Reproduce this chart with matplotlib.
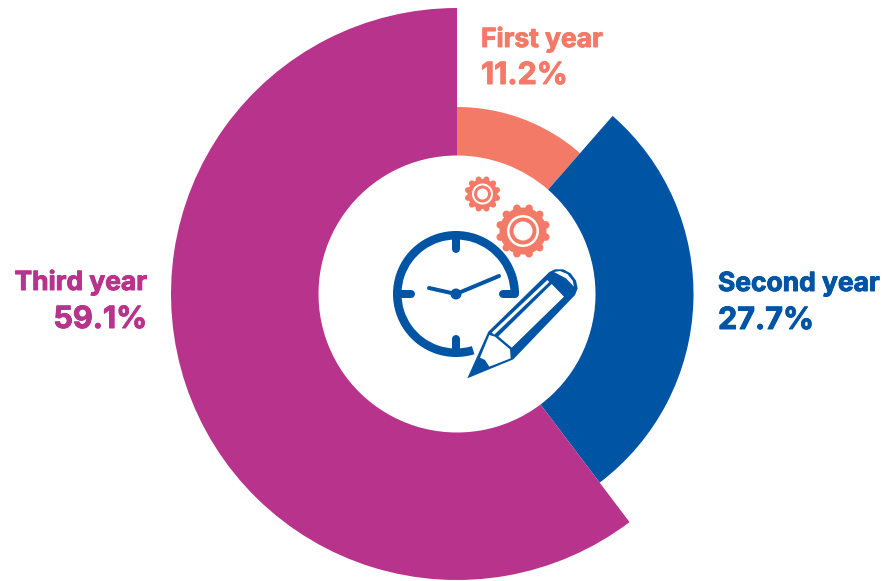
import numpy as np
import matplotlib
matplotlib.use('Agg')
import matplotlib.pyplot as plt
import matplotlib.patheffects as pe
from matplotlib.patches import Wedge, Circle, Polygon

categories = ['First year', 'Second year', 'Third year']
shares = [11.2, 27.7, 59.1]
outer_radii = [187, 236.5, 286]
colors = ['#F47A68', '#0054A4', '#B8338C']

W, H = 885, 581
cx, cy = 457, 294
inner = 138.5
PX = 0.72  # one pixel in points at dpi 100

fig = plt.figure(figsize=(W / 100, H / 100), dpi=100)
ax = fig.add_axes([0, 0, 1, 1])
ax.set_xlim(0, W)
ax.set_ylim(H, 0)
ax.axis('off')

# the shares only add to 98, so they get normalised like a pie does
total = sum(shares)
start = -90.0
for val, r, col in zip(shares, outer_radii, colors):
    sweep = val / total * 360
    ax.add_patch(Wedge((cx, cy), r, start, start + sweep, width=r - inner, fc=col, ec='none'))
    start += sweep

font = ['Inter', 'DejaVu Sans']
def label(x, y1, y2, name, val, col, ha):
    # a thin stroke, the original face is heavier than Inter bold
    fx = [pe.withStroke(linewidth=0.7, foreground=col)]
    ax.text(x, y1, name, color=col, ha=ha, va='baseline', fontsize=19, fontweight='bold',
            family=font, path_effects=fx)
    ax.text(x, y2, '%.1f%%' % val, color=col, ha=ha, va='baseline', fontsize=22, fontweight='bold',
            family=font, path_effects=fx)

label(481, 47, 84, categories[0], shares[0], colors[0], 'left')
label(718, 291, 329, categories[1], shares[1], colors[1], 'left')
label(147, 290, 328, categories[2], shares[2], colors[2], 'right')

# gears
def gear(x, y, r_body, r_tooth, rings):
    for a in np.arange(0, 360, 30) + 15:
        tx = x + r_body * np.cos(np.radians(a))
        ty = y + r_body * np.sin(np.radians(a))
        ax.add_patch(Circle((tx, ty), r_tooth, fc=colors[0], ec='none'))
    ax.add_patch(Circle((x, y), r_body, fc=colors[0], ec='none'))
    for r, c in rings:
        ax.add_patch(Circle((x, y), r, fc=c, ec='none'))

gear(482.5, 194, 15, 3, [(10.5, 'white'), (8.5, colors[0]), (5.5, 'white')])
gear(523, 231, 23.5, 3.8, [(16, 'white'), (13.5, colors[0]), (9.5, 'white')])

# clock
blue = colors[1]
ax.add_patch(Wedge((456, 294), 63, 73, 360, width=8.5, fc=blue, ec='none'))
def stroke(xs, ys, w):
    ax.plot(xs, ys, color=blue, lw=w * PX, solid_capstyle='round', zorder=3)
stroke([456, 456], [235, 249], 8)
stroke([456, 456], [339, 353], 8)
stroke([397, 411], [294, 294], 8)
stroke([503, 515], [294, 294], 8)
stroke([456, 499], [294, 276], 4)
stroke([456, 429], [294, 288], 4)
ax.add_patch(Circle((456, 294), 5.5, fc=blue, ec='none', zorder=3))

# pencil, traced in zoom coordinates of the crop at (460, 260) scaled by 3
def pen(pts, c, z=4):
    pts = np.array(pts, dtype=float) / 3 + [460, 260]
    ax.add_patch(Polygon(pts, closed=True, fc=c, ec='none', zorder=z))

pen([(22, 355), (85, 215), (268, 36), (285, 28), (310, 28), (332, 40), (348, 62), (353, 85),
     (345, 105), (160, 298)], blue)
pen([(95, 218), (262, 60), (268, 66), (103, 224)], 'white', 5)
pen([(115, 229), (275, 72), (312, 110), (155, 263)], 'white', 5)
pen([(88, 225), (60, 293), (75, 300), (88, 320), (152, 295), (150, 268), (105, 230)], 'white', 5)
pen([(282, 36), (300, 33), (322, 42), (338, 62), (342, 80), (318, 55)], 'white', 5)

fig.savefig('out.png', dpi=100, facecolor='white')
